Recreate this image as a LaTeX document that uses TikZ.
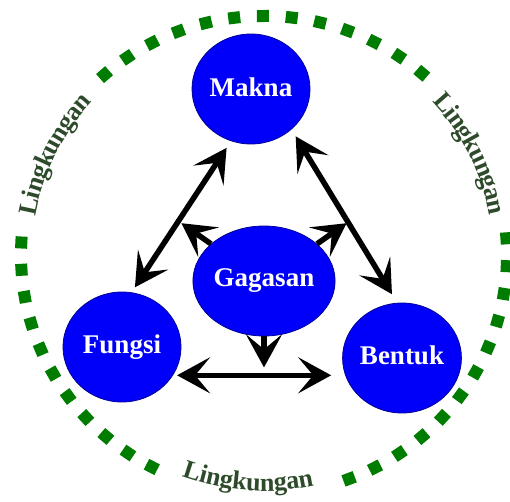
\documentclass[tikz,border=0pt]{standalone}
\usepackage{fontspec}
\setmainfont{Liberation Serif}
\usetikzlibrary{arrows.meta,shapes.geometric,calc,decorations.text}
\definecolor{nodeblue}{RGB}{0,0,250}
\definecolor{nodeedge}{RGB}{0,0,150}
\definecolor{dotgreen}{RGB}{0,125,0}
\definecolor{txtgreen}{RGB}{45,75,42}
\newcommand\lingfont{\color{txtgreen}\bfseries\fontsize{26}{26}\selectfont}
\begin{document}
\begin{tikzpicture}[x=1pt,y=1pt,
  concept/.style={ellipse, fill=nodeblue, draw=nodeedge, line width=0.8pt,
    minimum width=118pt, minimum height=110pt, inner sep=0pt, text=white,
    font=\bfseries\fontsize{27}{27}\selectfont},
  link/.style={line width=5.5pt, -{Stealth[length=33pt,width=36pt,inset=15pt]}},
  dbl/.style={line width=5.5pt, {Stealth[length=33pt,width=36pt,inset=15pt]}-{Stealth[length=33pt,width=36pt,inset=15pt]}},
  dotsq/.style={fill=dotgreen},
  ringtext/.style={decorate, decoration={text along path, text align=center,
    text={|\lingfont|Lingkungan}, raise=#1}}
]
\useasboundingbox (0,0) rectangle (510,501);
\coordinate (C) at (264,246);

% dotted ring
\foreach \i in {0,...,12}{
  \pgfmathsetmacro\t{131-\i*81.5/12}
  \fill[dotsq, shift={($(C)+(\t:243 and 239)$)}, rotate=\t] (-6,-6) rectangle (6,6);
}
\foreach \i in {0,...,10}{
  \pgfmathsetmacro\t{177+\i*6.55}
  \fill[dotsq, shift={($(C)+(\t:243 and 239)$)}, rotate=\t] (-6,-6) rectangle (6,6);
}
\foreach \i in {0,...,11}{
  \pgfmathsetmacro\t{4-\i*73.5/11}
  \fill[dotsq, shift={($(C)+(\t:243 and 239)$)}, rotate=\t] (-6,-6) rectangle (6,6);
}

% ring labels
\path[ringtext=-11pt] ($(C)+(176:243 and 239)$) arc[start angle=176, end angle=132, x radius=243, y radius=239];
\path[ringtext=-14pt] ($(C)+(49:243 and 239)$) arc[start angle=49, end angle=4, x radius=243, y radius=239];
\path[ringtext=3pt] ($(C)+(-118:243 and 239)$) arc[start angle=-118, end angle=-70, x radius=243, y radius=239];

% concepts
\node[concept] (Makna) at (251,412) {\raisebox{4pt}{Makna}};
\node[concept] (Gagasan) at (264,220) {Gagasan};
\node[concept] (Fungsi) at (122,154) {Fungsi};
\node[concept] (Bentuk) at (402,143) {\raisebox{5pt}{Bentuk}};

% connectors
\draw[dbl, shorten <=6pt, shorten >=8pt] (Fungsi.80) -- (Makna.249);
\draw[dbl, shorten <=8pt, shorten >=10pt] (Makna.315) -- (Bentuk.95);
\coordinate (ul) at ($(Gagasan.145)+(145:36)$);
\coordinate (ur) at ($(Gagasan.35)+(35:36)$);
\coordinate (dn) at ($(Gagasan.south)+(0,-31)$);
\draw[link] (Gagasan.145) -- (ul);
\draw[link] (Gagasan.35) -- (ur);
\draw[link] (Gagasan.south) -- (dn);
\draw[dbl, shorten <=4pt, shorten >=11pt] (Fungsi.-29) -- (Fungsi.-29 -| Bentuk.west);
\end{tikzpicture}
\end{document}
